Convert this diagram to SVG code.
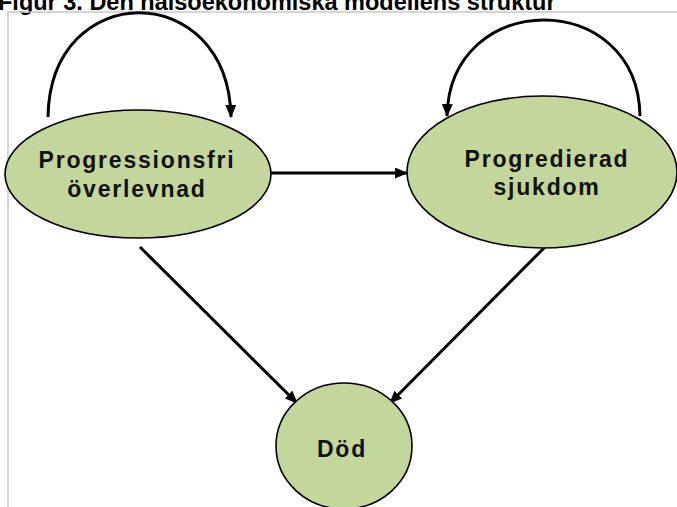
<svg xmlns="http://www.w3.org/2000/svg" width="677" height="507" viewBox="0 0 677 507">
<defs>
<style>
.node{fill:#c3d69b;stroke:#000;stroke-width:1.6}
.lbl{font-family:"Liberation Sans",Arial,sans-serif;font-weight:bold;font-size:23px;fill:#111;text-anchor:middle;letter-spacing:1.8px}
.edge{fill:none;stroke:#000;stroke-width:3;marker-end:url(#ah)}
.title{font-family:"Liberation Sans",Arial,sans-serif;font-weight:bold;font-size:23.5px;fill:#000}
</style>
<marker id="ah" viewBox="0 0 13 11" refX="12" refY="5.5" markerWidth="13" markerHeight="11" markerUnits="userSpaceOnUse" orient="auto">
<path d="M0,0 L13,5.5 L0,11 Z" fill="#000"/>
</marker>
</defs>
<rect width="677" height="507" fill="#fff"/>
<text class="title" x="-2" y="10">Figur 3. Den hälsoekonomiska modellens struktur</text>
<path d="M8,507 L8,12 L677,12" fill="none" stroke="#c8c8c8" stroke-width="1.5"/>
<g id="connectors">
<path class="edge" d="M48,117 C50,-22 228,-22 231,117"/>
<path class="edge" d="M640,116 C638,-12 450,-12 447,116"/>
<path class="edge" d="M270,173 L407,173"/>
<path class="edge" d="M140,247 L297,403"/>
<path class="edge" d="M545,247 L390,403"/>
</g>
<g id="pfs">
<ellipse class="node" cx="138" cy="174" rx="133" ry="64"/>
<text class="lbl" x="137" y="168">Progressionsfri</text>
<text class="lbl" x="137" y="197">överlevnad</text>
</g>
<g id="pd">
<ellipse class="node" cx="542" cy="172" rx="135" ry="76"/>
<text class="lbl" x="547" y="167">Progredierad</text>
<text class="lbl" x="547" y="195">sjukdom</text>
</g>
<g id="dod">
<ellipse class="node" cx="344" cy="446" rx="68" ry="63"/>
<text class="lbl" x="342" y="457">Död</text>
</g>
</svg>
